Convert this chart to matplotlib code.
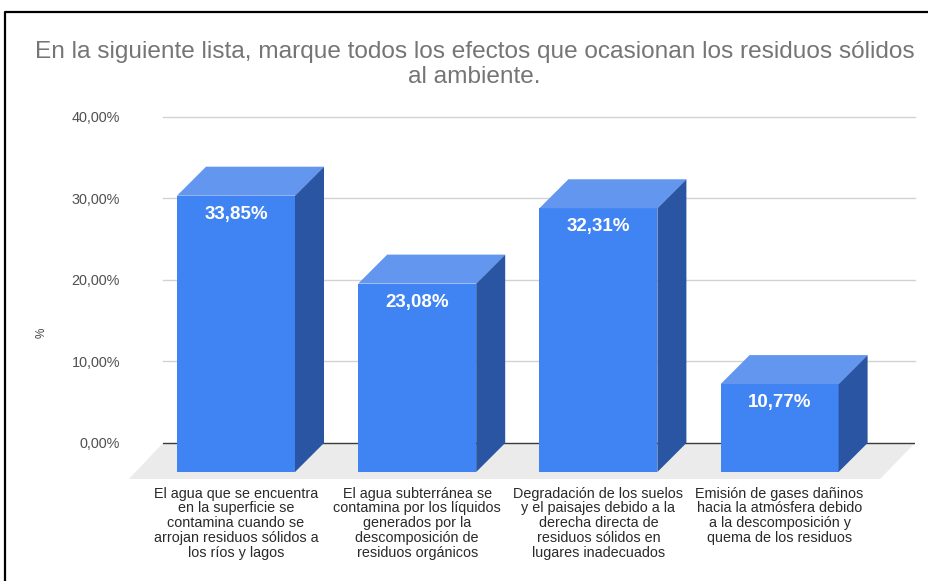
import matplotlib
matplotlib.use("Agg")
import matplotlib.pyplot as plt

plt.rcParams['font.family'] = ['Liberation Sans', 'DejaVu Sans']

title = "En la siguiente lista, marque todos los efectos que ocasionan los residuos sólidos\nal ambiente."
categories = [
    "El agua que se encuentra\nen la superficie se\ncontamina cuando se\narrojan residuos sólidos a\nlos ríos y lagos",
    "El agua subterránea se\ncontamina por los líquidos\ngenerados por la\ndescomposición de\nresiduos orgánicos",
    "Degradación de los suelos\ny el paisajes debido a la\nderecha directa de\nresiduos sólidos en\nlugares inadecuados",
    "Emisión de gases dañinos\nhacia la atmósfera debido\na la descomposición y\nquema de los residuos",
]
values = [33.85, 23.08, 32.31, 10.77]
y_ticks = [0, 10, 20, 30, 40]

W, H = 929, 581
fig = plt.figure(figsize=(W / 100, H / 100), dpi=100)

left, right, top, bottom = 163, 915, 116.5, 479
ax = fig.add_axes([left / W, 1 - bottom / H, (right - left) / W, (bottom - top) / H])

px_x = 181.2               # pixels per category
px_y = (443 - 116.5) / 40  # pixels per percent
ax.set_xlim((left - 236) / px_x, (right - 236) / px_x)
ax.set_ylim(-(bottom - 443) / px_y, 40)

dx = 29 / px_x
dy = 29 / px_y
bar_w = 118 / px_x

# floor
x0, x1 = ax.get_xlim()
y0 = ax.get_ylim()[0]
ax.fill([x0, x1, (880 - 236) / px_x, (129 - 236) / px_x], [0, 0, y0, y0],
        color='#ebebeb', lw=0, zorder=1, clip_on=False)

# gridlines
for t in y_ticks[1:]:
    ax.axhline(t, color='#d2d2d2', lw=1.0, zorder=0.5, clip_on=False)
ax.axhline(0, color='#3a3a3a', lw=1.0, zorder=1.5)

# 3d bars
for i, v in enumerate(values):
    l = i - bar_w / 2
    r = i + bar_w / 2
    front_top = v - dy
    ax.bar(i, v, width=bar_w, bottom=-dy, color='#4083f2', lw=0, zorder=3)
    ax.fill([l, r, r + dx, l + dx], [front_top, front_top, v, v], color='#6396ef', lw=0, zorder=3)
    ax.fill([r, r + dx, r + dx, r], [-dy, 0, v, front_top], color='#2a55a2', lw=0, zorder=3)
    ax.text(i, front_top - 18.5 / px_y, f"{v:.2f}".replace('.', ',') + '%', color='white',
            fontsize=13.5, fontweight='bold', ha='center', va='center', zorder=4)

for s in ax.spines.values():
    s.set_visible(False)
ax.set_yticks(y_ticks)
ax.set_yticklabels([f"{t:.2f}".replace('.', ',') + '%' for t in y_ticks], fontsize=10.4, color='#505050')
ax.set_xticks(range(len(categories)))
ax.set_xticklabels(categories, fontsize=10.4, color='#2a2a2a', linespacing=1.07)
ax.tick_params(axis='y', length=0, pad=31)
ax.tick_params(axis='x', length=0, pad=5.5)
ax.patch.set_visible(False)

fig.text(42 / W, 1 - 333 / H, '%', rotation=90, fontsize=8.5, color='#444444', ha='center', va='center')
fig.text(474.5 / W, 1 - 64.5 / H, title, fontsize=17.6, color='#757575', ha='center', va='center', linespacing=1.13)

# black frame around the screenshot
fig.add_artist(plt.Line2D([5 / W, 5 / W, 1], [0, 1 - 12 / H, 1 - 12 / H], color='black', lw=1.6))

fig.savefig('out.png', dpi=100)
